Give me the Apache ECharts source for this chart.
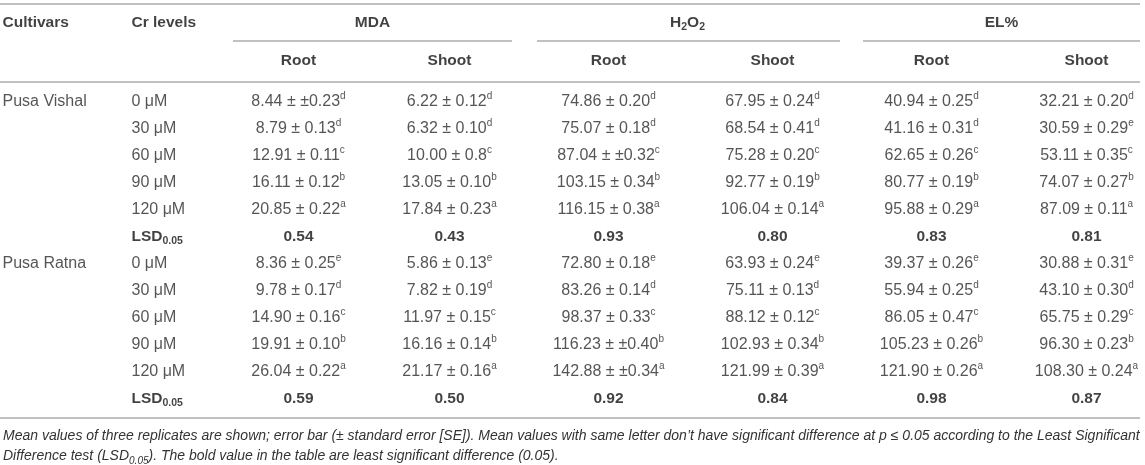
<!DOCTYPE html>
<html>
<head>
<meta charset="utf-8">
<script src="https://cdn.jsdelivr.net/npm/echarts@6/dist/echarts.min.js"></script>
<style>
  html, body { margin: 0; padding: 0; background: #fff; }
  #chart { width: 1145px; height: 465px; }
</style>
</head>
<body>
<div id="chart"></div>
<script>
// table content
const cultivars = ['Pusa Vishal', 'Pusa Ratna'];
const crLevels = ['0 μM', '30 μM', '60 μM', '90 μM', '120 μM'];
const traits = ['MDA', 'H2O2', 'EL%'];
const parts = ['Root', 'Shoot'];

// columns: MDA root, MDA shoot, H2O2 root, H2O2 shoot, EL root, EL shoot
const vishalMeans = [
  [8.44, 6.22, 74.86, 67.95, 40.94, 32.21],
  [8.79, 6.32, 75.07, 68.54, 41.16, 30.59],
  [12.91, 10.00, 87.04, 75.28, 62.65, 53.11],
  [16.11, 13.05, 103.15, 92.77, 80.77, 74.07],
  [20.85, 17.84, 116.15, 106.04, 95.88, 87.09]
];
// SE kept as printed (a few cells carry a doubled ± sign in the source)
const vishalSE = [
  ['±0.23', '0.12', '0.20', '0.24', '0.25', '0.20'],
  ['0.13', '0.10', '0.18', '0.41', '0.31', '0.29'],
  ['0.11', '0.8', '±0.32', '0.20', '0.26', '0.35'],
  ['0.12', '0.10', '0.34', '0.19', '0.19', '0.27'],
  ['0.22', '0.23', '0.38', '0.14', '0.29', '0.11']
];
const vishalLetters = [
  ['d', 'd', 'd', 'd', 'd', 'd'],
  ['d', 'd', 'd', 'd', 'd', 'e'],
  ['c', 'c', 'c', 'c', 'c', 'c'],
  ['b', 'b', 'b', 'b', 'b', 'b'],
  ['a', 'a', 'a', 'a', 'a', 'a']
];
const vishalLSD = ['0.54', '0.43', '0.93', '0.80', '0.83', '0.81'];

const ratnaMeans = [
  [8.36, 5.86, 72.80, 63.93, 39.37, 30.88],
  [9.78, 7.82, 83.26, 75.11, 55.94, 43.10],
  [14.90, 11.97, 98.37, 88.12, 86.05, 65.75],
  [19.91, 16.16, 116.23, 102.93, 105.23, 96.30],
  [26.04, 21.17, 142.88, 121.99, 121.90, 108.30]
];
const ratnaSE = [
  ['0.25', '0.13', '0.18', '0.24', '0.26', '0.31'],
  ['0.17', '0.19', '0.14', '0.13', '0.25', '0.30'],
  ['0.16', '0.15', '0.33', '0.12', '0.47', '0.29'],
  ['0.10', '0.14', '±0.40', '0.34', '0.26', '0.23'],
  ['0.22', '0.16', '±0.34', '0.39', '0.26', '0.24']
];
const ratnaLetters = [
  ['e', 'e', 'e', 'e', 'e', 'e'],
  ['d', 'd', 'd', 'd', 'd', 'd'],
  ['c', 'c', 'c', 'c', 'c', 'c'],
  ['b', 'b', 'b', 'b', 'b', 'b'],
  ['a', 'a', 'a', 'a', 'a', 'a']
];
const ratnaLSD = ['0.59', '0.50', '0.92', '0.84', '0.98', '0.87'];

const footLine1 = 'Mean values of three replicates are shown; error bar (± standard error [SE]). Mean values with same letter don’t have significant difference at p ≤ 0.05 according to the Least Significant';
const footLine2 = 'Difference test (LSD{fsub|0.05}). The bold value in the table are least significant difference (0.05).';

// layout
const W = 1145;
const font = '"Liberation Sans", Arial, Helvetica, sans-serif';
const colX = [299, 450, 609, 773, 932, 1087];
const groupX = [373, 688, 1002];
const groupSpan = [[233, 512], [537, 840], [863, 1140]];
const cultivarX = 3;
const levelX = 132;
const lineColor = '#acacac';

const rich = {
  v: { fontFamily: font, fontSize: 16, color: '#2a2a2a', lineHeight: 20 },
  sup: { fontFamily: font, fontSize: 10, color: '#2a2a2a', lineHeight: 10, verticalAlign: 'top' },
  b: { fontFamily: font, fontSize: 15.5, fontWeight: 'bold', color: '#111', lineHeight: 20 },
  bsub: { fontFamily: font, fontSize: 10.5, fontWeight: 'bold', color: '#111', lineHeight: 10, verticalAlign: 'bottom' }
};

// body cells
const bodyCells = [];
const cultivarData = [
  { means: vishalMeans, se: vishalSE, letters: vishalLetters, lsd: vishalLSD },
  { means: ratnaMeans, se: ratnaSE, letters: ratnaLetters, lsd: ratnaLSD }
];
cultivars.forEach((cv, ci) => {
  const d = cultivarData[ci];
  const base = ci * (crLevels.length + 1);
  crLevels.forEach((lv, li) => {
    const row = base + li;
    if (li === 0) {
      bodyCells.push({ value: [cultivarX, row], txt: '{v|' + cv + '}', label: { align: 'left' } });
    }
    bodyCells.push({ value: [levelX, row], txt: '{v|' + lv + '}', label: { align: 'left' } });
    for (let c = 0; c < colX.length; c++) {
      const t = d.means[li][c].toFixed(2) + ' ± ' + d.se[li][c];
      bodyCells.push({ value: [colX[c], row], txt: '{v|' + t + '}{sup|' + d.letters[li][c] + '}' });
    }
  });
  const lsdRow = base + crLevels.length;
  bodyCells.push({ value: [levelX, lsdRow], txt: '{b|LSD}{bsub|0.05}', label: { align: 'left' } });
  d.lsd.forEach((v, c) => {
    bodyCells.push({ value: [colX[c], lsdRow], txt: '{b|' + v + '}' });
  });
});

// header cells
const headCells = [
  { value: [cultivarX, 0], txt: '{b|Cultivars}', label: { align: 'left' } },
  { value: [levelX, 0], txt: '{b|Cr levels}', label: { align: 'left' } }
];
traits.forEach((t, i) => {
  const txt = t === 'H2O2' ? '{b|H}{bsub|2}{b|O}{bsub|2}' : '{b|' + t + '}';
  headCells.push({ value: [groupX[i], 0], txt: txt });
  parts.forEach((p, j) => {
    headCells.push({ value: [colX[i * 2 + j], 1], txt: '{b|' + p + '}' });
  });
});

const bodyRows = [];
for (let i = 0; i < cultivars.length * (crLevels.length + 1); i++) bodyRows.push(String(i));

function rule(x1, y, x2) {
  return {
    type: 'line',
    silent: true,
    shape: { x1: x1, y1: y, x2: x2, y2: y },
    style: { stroke: lineColor, lineWidth: 1.6 }
  };
}

const textSeries = (name, gi, data) => ({
  name: name,
  type: 'scatter',
  xAxisIndex: gi,
  yAxisIndex: gi,
  data: data,
  symbolSize: 1,
  itemStyle: { color: 'rgba(0,0,0,0)' },
  silent: true,
  label: {
    show: true,
    position: [0, 0],
    align: 'center',
    verticalAlign: 'middle',
    formatter: (p) => p.data.txt,
    rich: rich
  },
  emphasis: { disabled: true }
});

const chart = echarts.init(document.getElementById('chart'), null, { renderer: 'canvas' });
chart.setOption({
  animation: false,
  backgroundColor: '#fff',
  title: {
    text: footLine1 + '\n' + footLine2,
    left: 0,
    top: 426,
    padding: [0, 0, 0, 3],
    textStyle: {
      fontFamily: font,
      fontSize: 14,
      fontStyle: 'italic',
      fontWeight: 'normal',
      color: '#333',
      lineHeight: 20,
      rich: {
        fsub: { fontFamily: font, fontSize: 10, fontStyle: 'italic', color: '#333', lineHeight: 10, verticalAlign: 'bottom' }
      }
    }
  },
  grid: [
    { left: 0, right: 0, top: 4, height: 76 },
    { left: 0, right: 0, top: 88.5, height: 324 }
  ],
  xAxis: [
    { type: 'value', gridIndex: 0, min: 0, max: W, show: false },
    { type: 'value', gridIndex: 1, min: 0, max: W, show: false }
  ],
  yAxis: [
    { type: 'category', gridIndex: 0, data: ['group', 'part'], inverse: true, show: false },
    { type: 'category', gridIndex: 1, data: bodyRows, inverse: true, show: false }
  ],
  series: [
    textSeries('header', 0, headCells),
    textSeries('body', 1, bodyCells)
  ],
  graphic: [
    rule(0, 4, 1140),
    rule(groupSpan[0][0], 41, groupSpan[0][1]),
    rule(groupSpan[1][0], 41, groupSpan[1][1]),
    rule(groupSpan[2][0], 41, groupSpan[2][1]),
    rule(0, 82, 1140),
    rule(0, 418, 1140)
  ]
});
</script>
</body>
</html>
